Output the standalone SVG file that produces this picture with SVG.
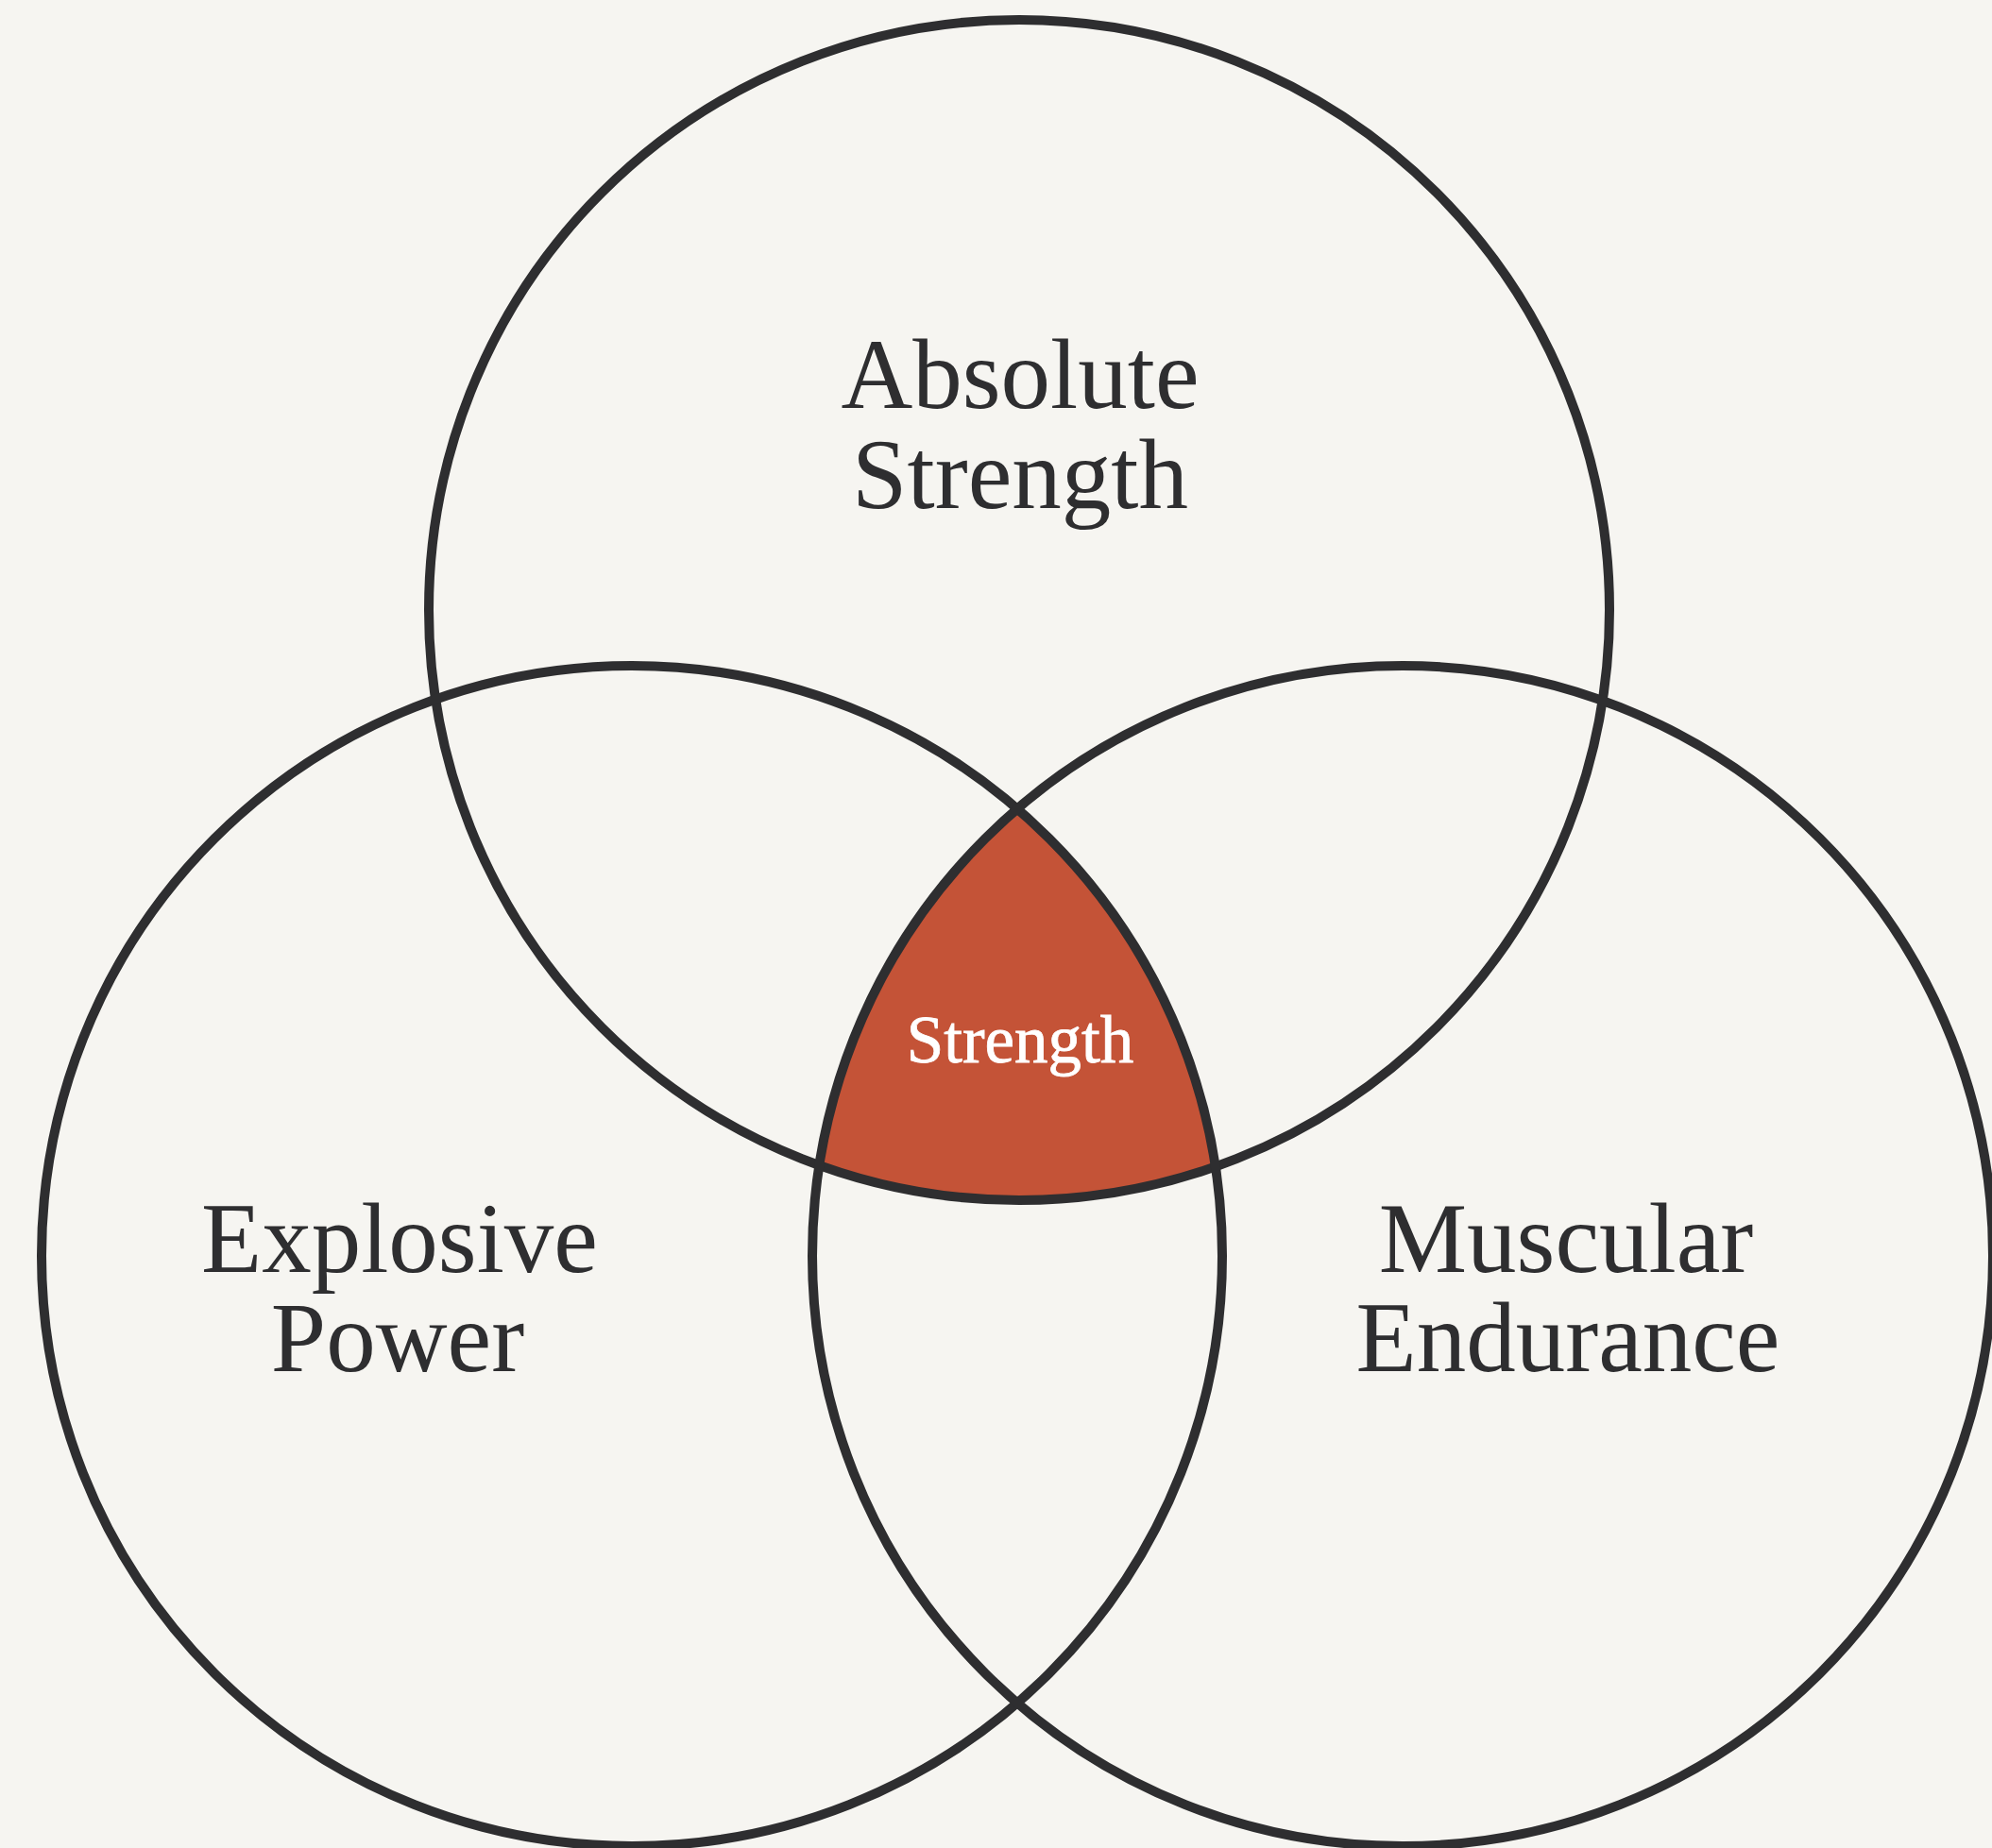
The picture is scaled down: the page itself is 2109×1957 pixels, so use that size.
<svg xmlns="http://www.w3.org/2000/svg" width="2109" height="1957" viewBox="0 0 2109 1957">
<style>
.ring{fill:none;stroke:#2E2E30;stroke-width:10}
.lbl{font-family:"Liberation Serif","DejaVu Serif",serif;font-size:105px;fill:#2E2E30;text-anchor:middle}
.core{font-family:"Liberation Serif","DejaVu Serif",serif;font-size:71px;fill:#FFFFFF;stroke:#FFFFFF;stroke-width:0.8;text-anchor:middle}
</style>
<rect x="0" y="0" width="2109" height="1957" fill="#F6F5F1"/>
<g id="overlap">
<path d="M1077,856.5 A625,625 0 0 0 867.4,1234.1 A625,625 0 0 0 1286.8,1235.4 A625,625 0 0 0 1077,856.5 Z" fill="#C45337"/>
<text class="core" x="1080" y="1125">Strength</text>
</g>
<g id="connectors">
<circle class="ring" cx="1079" cy="646" r="625"/>
<circle class="ring" cx="669" cy="1330" r="625"/>
<circle class="ring" cx="1485" cy="1330" r="625"/>
</g>
<g id="absolute-strength">
<text class="lbl" x="1080" y="432">Absolute</text>
<text class="lbl" x="1080" y="538">Strength</text>
</g>
<g id="explosive-power">
<text class="lbl" x="423" y="1347">Explosive</text>
<text class="lbl" x="421" y="1452">Power</text>
</g>
<g id="muscular-endurance">
<text class="lbl" x="1658" y="1347">Muscular</text>
<text class="lbl" x="1660" y="1452">Endurance</text>
</g>
</svg>
